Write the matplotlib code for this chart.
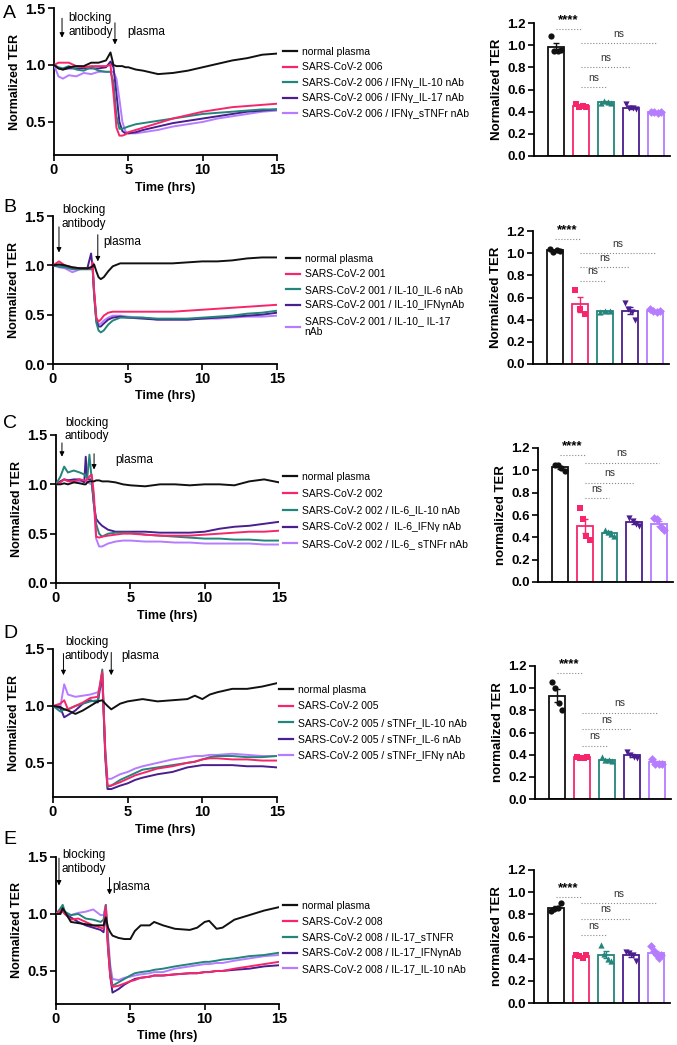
import numpy as np
import matplotlib
matplotlib.use("Agg")
import matplotlib.pyplot as plt
from matplotlib.lines import Line2D

plt.rcParams['font.family'] = ['Liberation Sans', 'DejaVu Sans']

W, H = 677, 1045

colors = ['#111111', '#F7266B', '#23857B', '#4A1E8E', '#B57CFF']
markers = ['o', 's', '^', 'v', 'D']

# ---- panel A time course ----
tA = [0, 0.3, 0.6, 1, 1.5, 2, 2.5, 3, 3.5, 3.8, 4.0, 4.2, 4.4, 4.6, 4.8, 5, 5.5, 6, 7, 8, 9, 10, 11, 12, 13, 14, 15]
A_normal = [1.0, 0.97, 0.96, 0.98, 0.99, 0.99, 1.02, 1.02, 1.04, 1.11, 1.0, 0.99, 0.99, 0.99, 0.98, 0.98, 0.96, 0.95, 0.92, 0.93, 0.95, 0.98, 1.01, 1.04, 1.06, 1.09, 1.10]
A_pink = [1.0, 1.02, 1.02, 1.02, 0.99, 0.98, 0.99, 0.99, 0.99, 1.0, 0.75, 0.45, 0.38, 0.38, 0.39, 0.41, 0.43, 0.45, 0.49, 0.53, 0.56, 0.59, 0.61, 0.63, 0.64, 0.65, 0.66]
A_teal = [1.0, 0.98, 0.97, 0.99, 0.96, 0.95, 0.98, 0.95, 0.94, 0.94, 0.85, 0.55, 0.44, 0.44, 0.45, 0.46, 0.48, 0.49, 0.51, 0.53, 0.55, 0.57, 0.58, 0.59, 0.60, 0.61, 0.61]
A_dark = [1.0, 0.97, 0.96, 0.97, 0.97, 0.97, 0.97, 0.97, 0.98, 1.03, 0.98, 0.75, 0.5, 0.42, 0.40, 0.40, 0.41, 0.43, 0.46, 0.49, 0.51, 0.53, 0.55, 0.57, 0.59, 0.60, 0.61]
A_light = [1.0, 0.9, 0.88, 0.91, 0.90, 0.93, 0.92, 0.94, 0.94, 0.94, 0.94, 0.88, 0.7, 0.5, 0.42, 0.40, 0.40, 0.41, 0.43, 0.46, 0.48, 0.50, 0.53, 0.55, 0.57, 0.59, 0.60]

# ---- panel B time course ----
tB = [0, 0.4, 0.8, 1.3, 1.8, 2.3, 2.55, 2.65, 2.75, 2.9, 3.05, 3.2, 3.4, 3.7, 4.0, 4.5, 5, 6, 7, 8, 9, 10, 11, 12, 13, 14, 15]
B_normal = [1.0, 1.01, 1.0, 0.98, 0.97, 0.97, 0.98, 0.99, 1.01, 0.94, 0.88, 0.86, 0.88, 0.94, 0.99, 1.02, 1.02, 1.02, 1.02, 1.02, 1.03, 1.04, 1.04, 1.05, 1.07, 1.08, 1.08]
B_pink = [1.0, 1.04, 1.0, 0.98, 0.97, 0.97, 0.97, 1.03, 0.75, 0.47, 0.43, 0.45, 0.49, 0.52, 0.53, 0.53, 0.53, 0.53, 0.53, 0.53, 0.54, 0.55, 0.56, 0.57, 0.58, 0.59, 0.60]
B_teal = [1.0, 0.99, 0.98, 0.96, 0.96, 0.96, 0.96, 0.98, 0.7, 0.42, 0.34, 0.32, 0.34, 0.40, 0.44, 0.47, 0.47, 0.47, 0.46, 0.46, 0.46, 0.47, 0.48, 0.49, 0.51, 0.52, 0.54]
B_dark = [1.0, 0.99, 0.99, 0.97, 0.97, 0.97, 1.12, 0.98, 0.72, 0.44, 0.38, 0.38, 0.41, 0.45, 0.47, 0.48, 0.47, 0.46, 0.45, 0.45, 0.45, 0.46, 0.47, 0.48, 0.49, 0.50, 0.52]
B_light = [1.0, 0.98, 0.97, 0.93, 0.96, 0.97, 0.98, 1.0, 0.74, 0.46, 0.40, 0.41, 0.44, 0.47, 0.49, 0.49, 0.48, 0.47, 0.45, 0.45, 0.45, 0.46, 0.46, 0.47, 0.48, 0.48, 0.49]

# ---- panel C time course ----
tC = [0, 0.3, 0.55, 0.8, 1.2, 1.6, 1.9, 2.0, 2.1, 2.25, 2.4, 2.55, 2.7, 2.9, 3.1, 3.5, 4.0, 4.5, 5, 6, 7, 8, 9, 10, 11, 12, 13, 14, 15]
C_normal = [1.0, 1.0, 1.01, 1.0, 1.02, 1.01, 1.0, 1.0, 1.02, 1.03, 1.03, 1.03, 1.04, 1.04, 1.03, 1.03, 1.02, 1.0, 0.99, 0.98, 1.0, 1.0, 0.99, 1.0, 1.0, 0.99, 1.03, 1.05, 1.02]
C_pink = [1.0, 1.02, 1.05, 1.03, 1.03, 1.05, 1.04, 1.04, 1.05, 1.08, 1.1, 0.9, 0.47, 0.46, 0.47, 0.48, 0.49, 0.50, 0.50, 0.49, 0.48, 0.48, 0.48, 0.49, 0.50, 0.51, 0.52, 0.52, 0.53]
C_teal = [1.0, 1.08, 1.18, 1.12, 1.14, 1.12, 1.1, 1.08, 1.06, 1.3, 1.05, 0.8, 0.6, 0.5, 0.47, 0.50, 0.51, 0.51, 0.51, 0.49, 0.48, 0.47, 0.46, 0.45, 0.45, 0.44, 0.44, 0.43, 0.43]
C_dark = [1.0, 1.03, 1.05, 1.04, 1.05, 1.05, 1.02, 1.28, 1.05, 1.05, 1.05, 0.8, 0.65, 0.61, 0.58, 0.54, 0.52, 0.52, 0.52, 0.52, 0.51, 0.51, 0.51, 0.52, 0.55, 0.57, 0.58, 0.60, 0.62]
C_light = [1.0, 1.03, 1.05, 1.04, 1.04, 1.03, 1.03, 1.03, 1.02, 1.01, 1.0, 0.8, 0.45, 0.37, 0.37, 0.40, 0.42, 0.43, 0.43, 0.42, 0.42, 0.41, 0.41, 0.40, 0.40, 0.40, 0.40, 0.39, 0.39]

# ---- panel D time course ----
tD = [0, 0.5, 0.75, 1.0, 1.5, 2.0, 2.5, 3.0, 3.3, 3.5, 3.65, 3.9, 4.5, 5, 5.5, 6, 7, 8, 9, 9.5, 10, 10.5, 11, 12, 13, 14, 15]
D_normal = [1.0, 0.99, 0.97, 0.96, 0.93, 0.96, 1.0, 1.04, 1.05, 1.02, 1.0, 0.97, 1.02, 1.04, 1.05, 1.06, 1.04, 1.05, 1.06, 1.09, 1.06, 1.1, 1.12, 1.15, 1.15, 1.17, 1.2]
D_pink = [1.0, 1.02, 1.05, 0.97, 1.0, 1.03, 1.07, 1.08, 1.3, 0.6, 0.3, 0.3, 0.33, 0.36, 0.39, 0.41, 0.45, 0.47, 0.50, 0.51, 0.53, 0.54, 0.54, 0.53, 0.53, 0.52, 0.52]
D_teal = [1.0, 0.95, 0.97, 0.97, 1.0, 1.02, 1.04, 1.05, 1.32, 0.58, 0.29, 0.30, 0.35, 0.38, 0.41, 0.44, 0.46, 0.48, 0.50, 0.51, 0.53, 0.55, 0.56, 0.56, 0.55, 0.55, 0.56]
D_dark = [1.0, 0.98, 0.9, 0.92, 0.96, 1.02, 1.05, 1.03, 1.28, 0.55, 0.27, 0.27, 0.30, 0.32, 0.35, 0.37, 0.40, 0.42, 0.46, 0.47, 0.48, 0.48, 0.48, 0.48, 0.47, 0.47, 0.46]
D_light = [1.0, 1.0, 1.19, 1.1, 1.08, 1.09, 1.10, 1.12, 1.2, 0.62, 0.36, 0.36, 0.40, 0.42, 0.45, 0.47, 0.50, 0.53, 0.55, 0.56, 0.56, 0.57, 0.57, 0.58, 0.57, 0.56, 0.56]

# ---- panel E time course ----
tE = [0, 0.3, 0.45, 0.6, 1.0, 1.5, 2.0, 2.5, 3.0, 3.2, 3.35, 3.5, 3.65, 3.8, 4.2, 4.6, 5.0, 5.3, 5.7, 6.3, 6.6, 7.2, 8, 9, 9.5, 10, 10.3, 10.8, 11.2, 12, 13, 14, 15]
E_normal = [1.0, 1.0, 1.05, 1.02, 0.93, 0.92, 0.91, 0.9, 0.9, 0.9, 0.97, 0.88, 0.84, 0.81, 0.79, 0.78, 0.78, 0.85, 0.9, 0.9, 0.93, 0.90, 0.87, 0.86, 0.88, 0.93, 0.94, 0.87, 0.88, 0.95, 0.99, 1.03, 1.06]
E_pink = [1.0, 1.03, 1.02, 1.0, 0.95, 0.96, 0.93, 0.9, 0.88, 0.87, 1.07, 0.7, 0.45, 0.36, 0.37, 0.39, 0.41, 0.42, 0.44, 0.45, 0.46, 0.46, 0.47, 0.48, 0.48, 0.49, 0.49, 0.50, 0.50, 0.52, 0.54, 0.56, 0.58]
E_teal = [1.0, 1.05, 1.08, 1.02, 0.99, 1.0, 0.96, 0.95, 0.93, 0.95, 1.08, 0.75, 0.5, 0.37, 0.40, 0.43, 0.46, 0.48, 0.49, 0.50, 0.51, 0.52, 0.54, 0.56, 0.57, 0.58, 0.58, 0.59, 0.60, 0.61, 0.63, 0.64, 0.66]
E_dark = [1.0, 1.02, 1.05, 1.0, 0.97, 0.93, 0.9, 0.88, 0.86, 0.84, 1.03, 0.7, 0.45, 0.31, 0.34, 0.38, 0.41, 0.43, 0.44, 0.45, 0.46, 0.46, 0.47, 0.48, 0.48, 0.49, 0.49, 0.50, 0.50, 0.51, 0.52, 0.54, 0.55]
E_light = [1.0, 1.02, 1.05, 1.01, 0.99, 1.01, 1.02, 1.04, 0.99, 0.99, 1.08, 0.8, 0.55, 0.43, 0.42, 0.44, 0.45, 0.46, 0.47, 0.48, 0.49, 0.49, 0.52, 0.54, 0.55, 0.56, 0.56, 0.57, 0.57, 0.59, 0.61, 0.63, 0.64]

# ---- legends ----
A_labels = ['normal plasma', 'SARS-CoV-2 006', 'SARS-CoV-2 006 / IFNγ_IL-10 nAb',
            'SARS-CoV-2 006 / IFNγ_IL-17 nAb', 'SARS-CoV-2 006 / IFNγ_sTNFr nAb']
B_labels = ['normal plasma', 'SARS-CoV-2 001', 'SARS-CoV-2 001 / IL-10_IL-6 nAb',
            'SARS-CoV-2 001 / IL-10_IFNγnAb', 'SARS-CoV-2 001 / IL-10_ IL-17\nnAb']
C_labels = ['normal plasma', 'SARS-CoV-2 002', 'SARS-CoV-2 002 / IL-6_IL-10 nAb',
            'SARS-CoV-2 002 /  IL-6_IFNγ nAb', 'SARS-CoV-2 002 / IL-6_ sTNFr nAb']
D_labels = ['normal plasma', 'SARS-CoV-2 005', 'SARS-CoV-2 005 / sTNFr_IL-10 nAb',
            'SARS-CoV-2 005 / sTNFr_IL-6 nAb', 'SARS-CoV-2 005 / sTNFr_IFNγ nAb']
E_labels = ['normal plasma', 'SARS-CoV-2 008', 'SARS-CoV-2 008 / IL-17_sTNFR',
            'SARS-CoV-2 008 / IL-17_IFNγnAb', 'SARS-CoV-2 008 / IL-17_IL-10 nAb']

# ---- bar chart replicate points ----
A_pts = [[1.08, 0.95, 0.95, 0.96], [0.47, 0.44, 0.45, 0.44], [0.48, 0.50, 0.49, 0.48],
         [0.47, 0.43, 0.43, 0.42], [0.40, 0.40, 0.39, 0.40]]
B_pts = [[1.04, 1.01, 1.03, 1.02], [0.67, 0.50, 0.45], [0.47, 0.48, 0.48],
         [0.55, 0.50, 0.47, 0.40], [0.50, 0.48, 0.47, 0.48]]
C_pts = [[1.05, 1.05, 1.02, 0.99], [0.66, 0.56, 0.41, 0.38], [0.47, 0.45, 0.43, 0.41],
         [0.57, 0.55, 0.52, 0.50], [0.57, 0.56, 0.49, 0.47]]
D_pts = [[1.06, 1.00, 0.87, 0.80], [0.38, 0.37, 0.37, 0.38], [0.38, 0.35, 0.35, 0.34],
         [0.42, 0.40, 0.38, 0.37], [0.36, 0.32, 0.32, 0.32]]
E_pts = [[0.83, 0.85, 0.86, 0.90], [0.43, 0.42, 0.41, 0.43], [0.52, 0.44, 0.40, 0.38],
         [0.46, 0.45, 0.43, 0.38], [0.51, 0.47, 0.44, 0.41, 0.43]]

# significance bracket heights: (star line, ns lines to groups 2,3,4)
A_sig = (1.15, [0.62, 0.80, 1.02])
B_sig = (1.13, [0.75, 0.875, 1.0])
C_sig = (1.14, [0.75, 0.89, 1.07])
D_sig = (1.14, [0.48, 0.63, 0.78])
E_sig = (0.96, [0.61, 0.76, 0.90])

bar_ylabels = ['Normalized TER', 'Normalized TER', 'normalized TER', 'normalized TER', 'normalized TER']
letters = ['A', 'B', 'C', 'D', 'E']


def px_rect(l, t, r, b):
    return [l / W, 1 - b / H, (r - l) / W, (b - t) / H]


fig = plt.figure(figsize=(W / 100, H / 100), dpi=100)

panels = [
    dict(t=tA, ys=[A_normal, A_pink, A_teal, A_dark, A_light], labels=A_labels, pts=A_pts, sig=A_sig,
         line_ax=(54, 8, 277, 155), ylim=(0.21, 1.5), yticks=[0.5, 1.0, 1.5],
         bar_ax=(534, 23, 670, 156), leg=(283, 47, 0.52),
         txt=(0.95, 1.35), ar1=(0.54, 1.41, 1.24), ar2=(4.1, 1.37, 1.18), pl=(4.9, 1.29), letter_y=13),
    dict(t=tB, ys=[B_normal, B_pink, B_teal, B_dark, B_light], labels=B_labels, pts=B_pts, sig=B_sig,
         line_ax=(53, 216, 277, 364), ylim=(0, 1.5), yticks=[0.0, 0.5, 1.0, 1.5],
         bar_ax=(533, 231, 669, 364), leg=(286, 254, 0.52),
         txt=(0.6, 1.49), ar1=(0.4, 1.39, 1.13), ar2=(3.0, 1.31, 1.04), pl=(3.4, 1.24), letter_y=207),
    dict(t=tC, ys=[C_normal, C_pink, C_teal, C_dark, C_light], labels=C_labels, pts=C_pts, sig=C_sig,
         line_ax=(56, 435, 279, 583), ylim=(0, 1.5), yticks=[0.0, 0.5, 1.0, 1.5],
         bar_ax=(538, 448, 673, 582), leg=(283, 472, 0.65),
         txt=(0.6, 1.555), ar1=(0.4, 1.42, 1.28), ar2=(2.56, 1.31, 1.15), pl=(4.0, 1.25), letter_y=424),
    dict(t=tD, ys=[D_normal, D_pink, D_teal, D_dark, D_light], labels=D_labels, pts=D_pts, sig=D_sig,
         line_ax=(53, 649, 277, 797), ylim=(0.2, 1.5), yticks=[0.5, 1.0, 1.5],
         bar_ax=(535, 666, 671, 799), leg=(279, 685, 0.62),
         txt=(0.8, 1.5), ar1=(0.7, 1.46, 1.27), ar2=(3.9, 1.47, 1.27), pl=(4.6, 1.44), letter_y=633),
    dict(t=tE, ys=[E_normal, E_pink, E_teal, E_dark, E_light], labels=E_labels, pts=E_pts, sig=E_sig,
         line_ax=(56, 857, 279, 1004), ylim=(0.21, 1.5), yticks=[0.5, 1.0, 1.5],
         bar_ax=(534, 870, 670, 1003), leg=(283, 901, 0.55),
         txt=(0.4, 1.455), ar1=(0.2, 1.49, 1.25), ar2=(3.6, 1.32, 1.17), pl=(3.8, 1.24), letter_y=839),
]

for i, p in enumerate(panels):
    # ---------- time course ----------
    ax = fig.add_axes(px_rect(*p['line_ax']))
    for k in range(4, -1, -1):
        ax.plot(p['t'], p['ys'][k], color=colors[k], lw=1.4, zorder=3 + (k == 0))
    ax.set_xlim(0, 15)
    ax.set_ylim(*p['ylim'])
    ax.set_xticks([0, 5, 10, 15])
    ax.set_yticks(p['yticks'])
    ax.set_yticklabels([f'{v:.1f}' for v in p['yticks']])
    for s in ['top', 'right']:
        ax.spines[s].set_visible(False)
    for s in ['left', 'bottom']:
        ax.spines[s].set_linewidth(1.3)
    ax.tick_params(width=1.2, length=4, labelsize=10.5, pad=2)
    for lab in ax.get_xticklabels() + ax.get_yticklabels():
        lab.set_fontweight('bold')
    ax.set_xlabel('Time (hrs)', fontsize=9, fontweight='bold', labelpad=3)
    ax.set_ylabel('Normalized TER', fontsize=9, fontweight='bold', labelpad=3)

    ax.text(p['txt'][0], p['txt'][1], 'blocking\nantibody', fontsize=8.5, ha='left', va='center',
            linespacing=1.15, clip_on=False)
    for ar in (p['ar1'], p['ar2']):
        ax.annotate('', xy=(ar[0], ar[2]), xytext=(ar[0], ar[1]), annotation_clip=False,
                    arrowprops=dict(arrowstyle='-|>', color='k', lw=0.7, mutation_scale=7,
                                    shrinkA=0, shrinkB=0))
    ax.text(p['pl'][0], p['pl'][1], 'plasma', fontsize=8.5, ha='left', va='center')

    handles = [Line2D([], [], color=c, lw=1.6) for c in colors]
    lx, ly, lsp = p['leg']
    fig.legend(handles, p['labels'], loc='upper left', bbox_to_anchor=(lx / W, 1 - ly / H),
               frameon=False, fontsize=7.5, handlelength=1.3, handletextpad=0.5,
               labelspacing=lsp, borderpad=0, borderaxespad=0)

    fig.text(3 / W, 1 - p['letter_y'] / H, letters[i], fontsize=14, ha='left', va='center')

    # ---------- bar chart ----------
    bx = fig.add_axes(px_rect(*p['bar_ax']))
    for k, pts in enumerate(p['pts']):
        pts = np.array(pts)
        m = pts.mean()
        sem = pts.std(ddof=1) / np.sqrt(len(pts))
        bx.bar(k, m, width=0.64, facecolor='white', edgecolor=colors[k], lw=1.3, zorder=2)
        bx.errorbar(k, m, yerr=sem, color=colors[k], capsize=2.5, lw=1.0, capthick=1.0, zorder=3)
        offs = np.linspace(-0.2, 0.2, len(pts))
        bx.scatter(k + offs, pts, marker=markers[k], s=20, color=colors[k], zorder=4, linewidths=0)
    bx.set_xlim(-0.88, 4.56)
    bx.set_ylim(0, 1.2)
    bx.set_yticks([0.0, 0.2, 0.4, 0.6, 0.8, 1.0, 1.2])
    bx.set_yticklabels([f'{v:.1f}' for v in [0.0, 0.2, 0.4, 0.6, 0.8, 1.0, 1.2]])
    bx.set_xticks([])
    for s in ['top', 'right']:
        bx.spines[s].set_visible(False)
    for s in ['left', 'bottom']:
        bx.spines[s].set_linewidth(1.3)
    bx.tick_params(width=1.2, length=4, labelsize=9.5, pad=2)
    for lab in bx.get_yticklabels():
        lab.set_fontweight('bold')
    bx.set_ylabel(bar_ylabels[i], fontsize=9.5, fontweight='bold', labelpad=3)

    star_y, ns_ys = p['sig']
    bx.plot([0, 1], [star_y, star_y], ls=':', color='#888888', lw=0.8, clip_on=False)
    bx.text(0.5, star_y + 0.025, '****', ha='center', va='bottom', fontsize=9.5, fontweight='bold')
    for j, y in enumerate(ns_ys):
        bx.plot([1, 2 + j], [y, y], ls=':', color='#888888', lw=0.8, clip_on=False)
        bx.text((1 + 2 + j) / 2, y + 0.04, 'ns', ha='center', va='bottom', fontsize=7.5, color='#333333')

fig.savefig('out.png', dpi=100)
